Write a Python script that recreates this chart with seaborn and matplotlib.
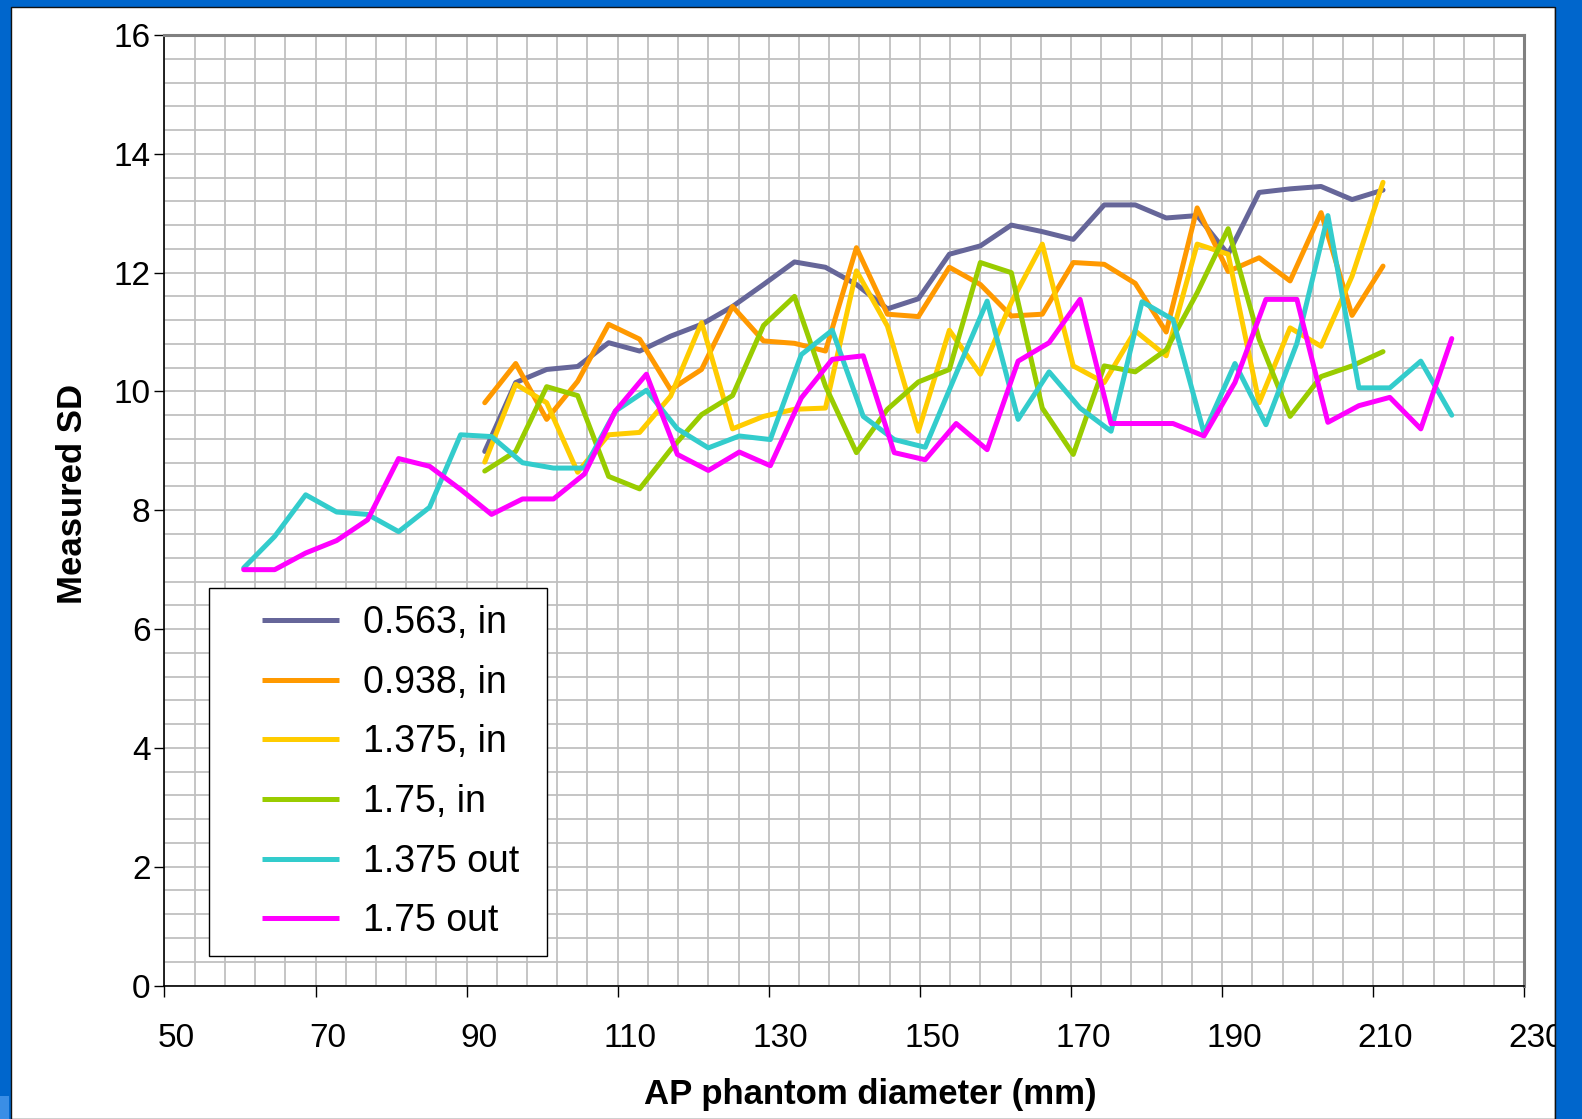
import numpy as np
import pandas as pd
import matplotlib
matplotlib.use("Agg")
import matplotlib.pyplot as plt
import matplotlib.transforms as mtransforms
from matplotlib.lines import Line2D
from matplotlib.patches import Rectangle
from matplotlib.legend_handler import HandlerLine2D
from matplotlib.ticker import FixedLocator
import seaborn as sns

# Phantom diameters (mm) for the inside and outside measurement positions
x_in = [92.4, 96.5, 100.6, 104.7, 108.8, 112.9, 117.0, 121.1, 125.2, 129.3,
        133.4, 137.5, 141.6, 145.7, 149.8, 153.9, 158.0, 162.1, 166.2, 170.3,
        174.4, 178.5, 182.6, 186.7, 190.8, 194.9, 199.0, 203.1, 207.2, 211.3]
x_out = [60.5, 64.6, 68.7, 72.8, 76.9, 81.0, 85.1, 89.2, 93.3, 97.4,
         101.5, 105.6, 109.7, 113.8, 117.9, 122.0, 126.1, 130.2, 134.3, 138.4,
         142.5, 146.6, 150.7, 154.8, 158.9, 163.0, 167.1, 171.2, 175.3, 179.4,
         183.5, 187.6, 191.7, 195.8, 199.9, 204.0, 208.1, 212.2, 216.3, 220.4]

# Measured standard deviation for each configuration
sd_0563_in = [8.99, 10.15, 10.37, 10.42, 10.82, 10.68, 10.93, 11.13, 11.43, 11.80,
              12.18, 12.09, 11.80, 11.39, 11.56, 12.31, 12.45, 12.80, 12.69, 12.56,
              13.14, 13.14, 12.92, 12.96, 12.31, 13.35, 13.41, 13.45, 13.23, 13.39]
sd_0938_in = [9.81, 10.47, 9.53, 10.17, 11.13, 10.88, 10.03, 10.37, 11.43, 10.85,
              10.81, 10.68, 12.42, 11.30, 11.26, 12.09, 11.80, 11.27, 11.30, 12.17,
              12.14, 11.82, 11.00, 13.09, 12.02, 12.25, 11.86, 13.01, 11.28, 12.11]
sd_1375_in = [8.81, 10.12, 9.81, 8.64, 9.27, 9.31, 9.92, 11.16, 9.37, 9.58,
              9.70, 9.72, 12.03, 11.10, 9.33, 11.03, 10.29, 11.50, 12.48, 10.43,
              10.15, 11.02, 10.60, 12.48, 12.31, 9.81, 11.07, 10.76, 11.94, 13.52]
sd_175_in = [8.66, 8.99, 10.08, 9.93, 8.57, 8.36, 9.02, 9.61, 9.93, 11.11,
             11.60, 10.09, 8.97, 9.70, 10.16, 10.37, 12.17, 12.00, 9.72, 8.94,
             10.43, 10.33, 10.70, 11.66, 12.74, 10.88, 9.58, 10.25, 10.43, 10.67]
sd_1375_out = [7.03, 7.56, 8.26, 7.97, 7.93, 7.64, 8.05, 9.27, 9.24, 8.80,
               8.71, 8.71, 9.67, 10.02, 9.37, 9.05, 9.25, 9.19, 10.62, 11.03,
               9.58, 9.19, 9.06, 10.30, 11.52, 9.53, 10.33, 9.72, 9.33, 11.51,
               11.21, 9.30, 10.47, 9.44, 10.81, 12.96, 10.06, 10.06, 10.51, 9.60]
sd_175_out = [7.00, 7.00, 7.28, 7.49, 7.84, 8.87, 8.74, 8.35, 7.93, 8.19,
              8.19, 8.61, 9.67, 10.29, 8.94, 8.67, 8.98, 8.75, 9.89, 10.54,
              10.60, 8.97, 8.85, 9.46, 9.02, 10.51, 10.82, 11.55, 9.46, 9.46,
              9.46, 9.25, 10.15, 11.55, 11.55, 9.48, 9.76, 9.90, 9.37, 10.89]

series_labels = ["0.563, in", "0.938, in", "1.375, in", "1.75, in", "1.375 out", "1.75 out"]
series_colors = ["#666699", "#FF9900", "#FFCC00", "#99CC00", "#33CCCC", "#FF00FF"]
series_x = [x_in, x_in, x_in, x_in, x_out, x_out]
series_y = [sd_0563_in, sd_0938_in, sd_1375_in, sd_175_in, sd_1375_out, sd_175_out]

x_ticks = [50, 70, 90, 110, 130, 150, 170, 190, 210, 230]
y_ticks = [0, 2, 4, 6, 8, 10, 12, 14, 16]

df = pd.concat(
    [pd.DataFrame({"diameter": xs, "sd": ys, "series": lab})
     for lab, xs, ys in zip(series_labels, series_x, series_y)],
    ignore_index=True,
)

sns.set_style("white")
plt.rcParams["font.family"] = ["Liberation Sans", "DejaVu Sans"]
plt.rcParams.update({"text.color": "black", "axes.labelcolor": "black",
                     "xtick.color": "black", "ytick.color": "black"})

W, H = 1582, 1119
SLIDE_BLUE = "#0066CC"
fig = plt.figure(figsize=(W / 100, H / 100), dpi=100, facecolor=SLIDE_BLUE)

# White chart panel on the slide
fig.add_artist(Rectangle((11 / W, 0), (1555 - 11) / W, (H - 7) / H,
                         transform=fig.transFigure, facecolor="white",
                         edgecolor="#111111", lw=1.0, zorder=-2))

ax_l, ax_r, ax_t, ax_b = 164.4, 1524.3, 35.0, 985.5
ax = fig.add_axes([ax_l / W, 1 - ax_b / H, (ax_r - ax_l) / W, (ax_b - ax_t) / H])
ax.set_facecolor("white")

palette = dict(zip(series_labels, series_colors))
sns.lineplot(data=df, x="diameter", y="sd", hue="series", hue_order=series_labels,
             palette=palette, sort=False, estimator=None, lw=3.6, legend=False, ax=ax)

ax.set_xlim(50, 230)
ax.set_ylim(0, 16)
ax.xaxis.set_major_locator(FixedLocator(x_ticks))
ax.yaxis.set_major_locator(FixedLocator(y_ticks))
ax.xaxis.set_minor_locator(FixedLocator(np.arange(50, 231, 4)))
ax.yaxis.set_minor_locator(FixedLocator(np.arange(0, 16.01, 0.4)))
ax.grid(True, which="both", color="#c0c0c0", lw=1.3)
ax.set_axisbelow(True)

ax.tick_params(which="minor", length=0)
ax.tick_params(axis="x", which="major", direction="out", length=8, width=1,
               pad=19, labelsize=24, color="black", labelcolor="black", bottom=True)
ax.tick_params(axis="y", which="major", direction="out", length=7, width=1,
               pad=3, labelsize=24, color="black", labelcolor="black", left=True)

for side in ("left", "bottom"):
    ax.spines[side].set_color("black")
    ax.spines[side].set_linewidth(1.2)
for side in ("top", "right"):
    ax.spines[side].set_color("#808080")
    ax.spines[side].set_linewidth(2.2)

# x tick labels sit a little to the right of their ticks
shift = mtransforms.ScaledTranslation(12 / 100, 0, fig.dpi_scale_trans)
for lbl in ax.get_xticklabels():
    lbl.set_transform(lbl.get_transform() + shift)

ax.set_xlabel("AP phantom diameter (mm)", fontsize=25, fontweight="bold", color="black")
ax.xaxis.set_label_coords(0.519, -0.097)
ax.set_ylabel("Measured SD", fontsize=25, fontweight="bold", color="black")
ax.yaxis.set_label_coords(-0.0555, 0.517)


class InsetLineHandler(HandlerLine2D):
    """Legend line that starts some distance into the handle box."""

    def __init__(self, inset_pt, **kw):
        super().__init__(**kw)
        self.inset_pt = inset_pt

    def create_artists(self, legend, orig_handle, xdescent, ydescent, width,
                       height, fontsize, trans):
        return super().create_artists(legend, orig_handle, xdescent - self.inset_pt,
                                      ydescent, width - self.inset_pt, height,
                                      fontsize, trans)


handles = [Line2D([], [], color=c, lw=3.6, solid_capstyle="butt") for c in series_colors]
leg_fs = 27
leg_x0 = (209.3 - ax_l) / (ax_r - ax_l)
leg_w = (547.3 - 209.3) / (ax_r - ax_l)
leg_top = (ax_b - 588.3) / (ax_b - ax_t)
leg_h = (954.0 - 588.3) / (ax_b - ax_t)
leg = ax.legend(handles, series_labels, loc="upper left", mode="expand",
                bbox_to_anchor=(leg_x0, leg_top - leg_h, leg_w, leg_h),
                borderaxespad=0, fontsize=leg_fs, frameon=True, fancybox=False,
                shadow=False, framealpha=1, edgecolor="black",
                handlelength=3.01, handletextpad=0.65, labelspacing=0.63,
                borderpad=0.45, handler_map={Line2D: InsetLineHandler(25.6)})
leg.get_frame().set_linewidth(1.0)
for t in leg.get_texts():
    t.set_color("black")

# Slide border drawn over the chart edge on the right
fig.add_artist(Rectangle((1555 / W, 0), (W - 1555) / W, 1, transform=fig.transFigure,
                         facecolor=SLIDE_BLUE, edgecolor="none", zorder=5))
fig.add_artist(Line2D([1555 / W, 1555 / W], [0, 1 - 7 / H], transform=fig.transFigure,
                      color="#111111", lw=1.0, zorder=6))
fig.add_artist(Rectangle((0, 0), 9 / W, 23 / H, transform=fig.transFigure,
                         facecolor="#3a8ee6", edgecolor="none", zorder=6))

fig.savefig("out.png", dpi=100, facecolor=fig.get_facecolor())
